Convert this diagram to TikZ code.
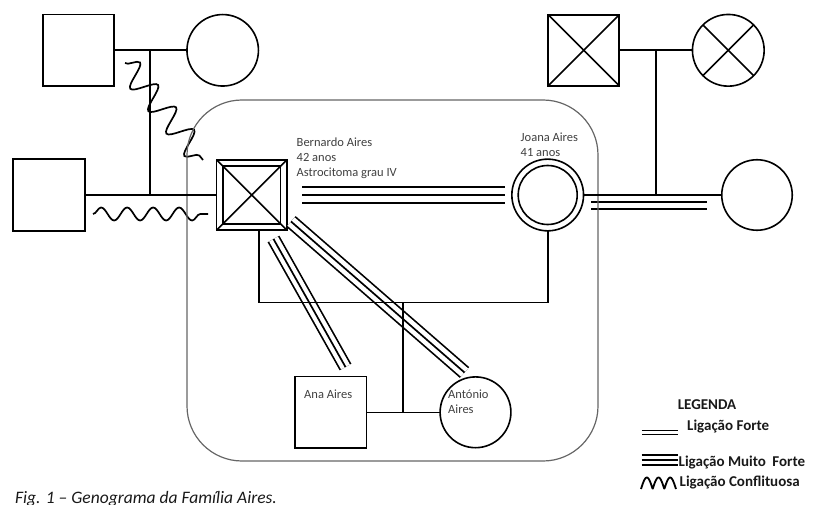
\documentclass[tikz,border=0pt]{standalone}
\usepackage{fontspec}
\setmainfont{Carlito}
\usetikzlibrary{decorations.pathmorphing,calc}
\begin{document}
\begin{tikzpicture}[x=1pt,y=-1pt,
  gline/.style={draw=black, line width=1.6pt},
  gsq/.style={gline, rectangle, minimum size=71.5pt, inner sep=0pt, outer sep=0pt},
  gci/.style={gline, circle, minimum size=71.5pt, inner sep=0pt, outer sep=0pt},
  strongrel/.style={draw, line width=1.7pt, double=white, double distance=#1},
  triplerel/.style={preaction={draw, line width=1.7pt, double=white, double distance=#1}, draw, line width=1.7pt},
  conflictrel/.style={draw, line width=1.7pt, decorate, decoration={snake, amplitude=#1, segment length=#1*2.4}},
  lbl/.style={font=\fontsize{12.5}{15}\selectfont, text=black!75, inner sep=0pt, align=left, anchor=north west},
  legtext/.style={font=\bfseries\fontsize{15}{18}\selectfont, text=black!90, inner sep=0pt},
  famgroup/.style={draw=black!60, line width=1.2pt, rounded corners=55pt}
]
\useasboundingbox (0,0) rectangle (814,505);

% ---------- people ----------
\node[gsq] (tlm) at (78.5,50.3) {};
\node[gci] (tlf) at (222.7,50.3) {};
\node[gsq] (lm) at (49,195) {};
\node[gsq, minimum size=70.4pt] (bern) at (251.7,195) {};
\node[gsq, minimum size=57.8pt] (bernin) at (251.7,195) {};
\node[gci, minimum size=71.7pt] (joana) at (547.7,195) {};
\node[gci, minimum size=59pt] (joanain) at (547.7,195) {};
\node[gci, minimum size=70.5pt] (rf) at (757,195) {};
\node[gsq, minimum size=71pt] (trm) at (583.7,50.3) {};
\node[gci, minimum size=71.7pt] (trf) at (728.3,50.3) {};
\node[gsq] (ana) at (330.8,412.3) {};
\node[gci, minimum size=70.8pt] (ant) at (475.5,412.3) {};

% crosses (deceased)
\draw[gline] (bern.north west) -- (bern.south east);
\draw[gline] (bern.north east) -- (bern.south west);
\draw[gline] (trm.north west) -- (trm.south east);
\draw[gline] (trm.north east) -- (trm.south west);
\draw[gline] (trf.north west) -- (trf.south east);
\draw[gline] (trf.north east) -- (trf.south west);

% ---------- relationship lines ----------
\coordinate (bj1) at (302,195);
\coordinate (bj2) at (505,195);
\draw[triplerel=13.7pt] (bj1) -- (bj2);
\coordinate (jr1) at (591,205.5);
\coordinate (jr2) at (707,205.5);
\draw[strongrel=5.9pt] (jr1) -- (jr2);
\coordinate (ba1) at (273.5,239);
\coordinate (ba2) at (345.5,367);
\draw[triplerel=10.1pt] (ba1) -- (ba2);
\coordinate (bt1) at (291,221.5);
\coordinate (bt2) at (464.5,372.5);
\draw[triplerel=10.9pt] (bt1) -- (bt2);
\coordinate (wa1) at (125,63);
\coordinate (wa2) at (203,160);
\draw[conflictrel=12pt] (wa1) -- (wa2);
\coordinate (wb1) at (93,214);
\coordinate (wb2) at (208,214);
\draw[draw, line width=1.7pt, decorate, decoration={snake, amplitude=6.5pt, segment length=26pt}] (wb1) -- (wb2);

% ---------- family group ----------
\draw[famgroup] (187,100) rectangle (598,461);

% ---------- family structure ----------
\draw[gline] (tlm.east) -- (tlf.west);
\coordinate (j1) at (150,50.3);
\draw[gline] (j1) -- (j1 |- lm.east);
\draw[gline] (lm.east) -- (bern.west);
\draw[gline] (trm.east) -- (trf.west);
\coordinate (j2) at (656,50.3);
\draw[gline] (j2) -- (j2 |- joana.east);
\draw[gline] (joana.east) -- (rf.west);
\coordinate (bd) at ($(bern.south)+(7.3,0)$);
\coordinate (hl) at (259,302.5);
\draw[gline] (bd) -- (hl) -| (joana.south);
\coordinate (cj) at (403,302.5);
\draw[gline] (cj) -- (cj |- ana.east);
\draw[gline] (ana.east) -- (ant.west);

% ---------- labels ----------
\node[lbl] (tb) at (296.5,138) {Bernardo Aires\\42 anos\\Astrocitoma grau IV};
\node[lbl] (tj) at (520.5,132.5) {Joana Aires\\41 anos};
\node[lbl] (ta) at (304,389.3) {Ana Aires};
\node[lbl] (tan) at (448,390) {António\\Aires};

% ---------- legend ----------
\node[legtext] (legt) at (707,404.2) {LEGENDA};
\draw[line width=1.9pt, double=white, double distance=2.1pt] (641.7,432.5) -- (678,432.5);
\node[legtext, anchor=base west] (l1) at (687,430) {Ligação Forte};
\draw[line width=1.9pt] (641.7,455) -- (678,455) (641.7,460) -- (678,460) (641.7,465) -- (678,465);
\node[legtext, anchor=base west] (l2) at (678.5,466) {Ligação Muito\hspace{0.2em} Forte};
\draw[line width=1.8pt, line join=round] plot[domain=0:35, samples=90] ({641+\x}, {489-11.5*abs(sin(\x/35*540))});
\node[legtext, anchor=base west] (l3) at (679.5,486.7) {Ligação Conflituosa};

% ---------- caption ----------
\node[anchor=base west, inner sep=0pt, font=\itshape\fontsize{17.5}{20}\selectfont, text=black!90] (cap) at (15,503.3) {Fig. 1 – Genograma da Família Aires.};
\end{tikzpicture}
\end{document}
